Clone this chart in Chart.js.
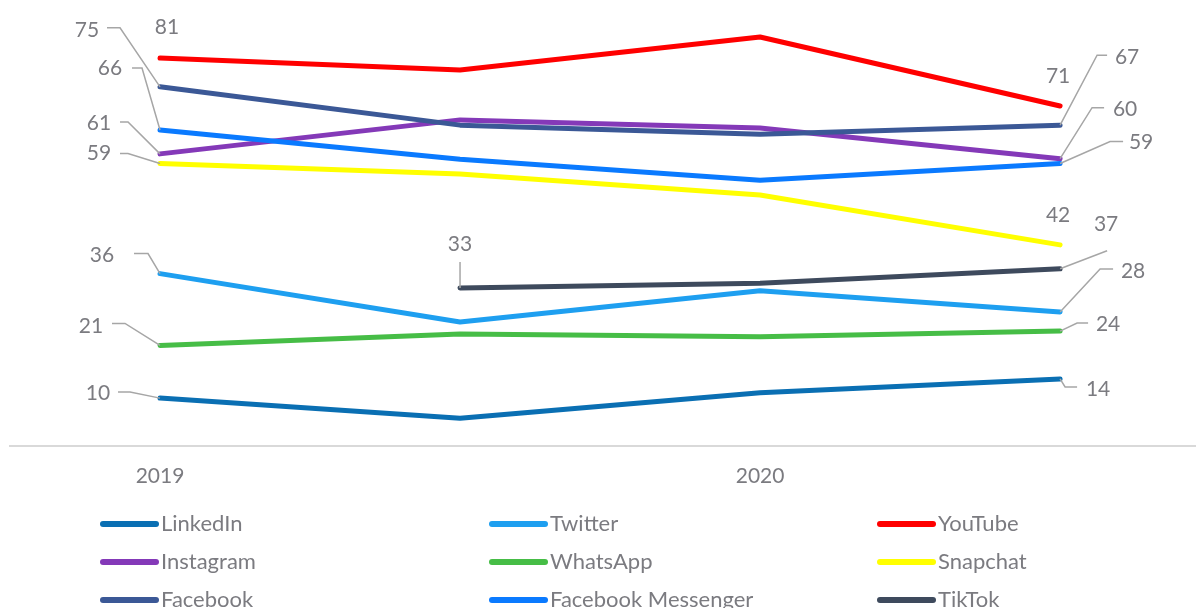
<!DOCTYPE html>
<html>
<head>
<meta charset="utf-8">
<script src="https://cdn.jsdelivr.net/npm/chart.js@4"></script>
<style>
  html, body { margin: 0; padding: 0; background: #fff; overflow: hidden; }
  #wrap { width: 1196px; height: 640px; }
</style>
</head>
<body>
<div id="wrap"><canvas id="grafico" width="1196" height="640"></canvas></div>
<script>
// categorias (so 2019 e 2020 aparecem no eixo)
const categories = ['2019', '', '2020', ''];

const nomes = ['LinkedIn', 'Twitter', 'YouTube', 'Instagram', 'WhatsApp', 'Snapchat', 'Facebook', 'Facebook Messenger', 'TikTok'];

const linkedin  = [10, 5.8, 11.1, 14];
const twitter   = [36, 25.9, 32.4, 28];
const youtube   = [81, 78.5, 85.4, 71];
const instagram = [61, 68.1, 66.4, 60];
const whatsapp  = [21, 23.4, 22.8, 24];
const snapchat  = [59, 56.8, 52.4, 42];
const facebook  = [75, 67.0, 65.1, 67];
const messenger = [66, 59.9, 55.5, 59];
const tiktok    = [null, 33, 34.0, 37];

const series = [linkedin, twitter, youtube, instagram, whatsapp, snapchat, facebook, messenger, tiktok];
const cores = ['#0a6fb3', '#1e9ff0', '#ff0000', '#8439b8', '#46bd46', '#ffff00', '#3b5896', '#0a7aff', '#3e4a5d'];

const corTexto = '#7b7b80';
const fonte = 'Lato, "Open Sans", sans-serif';

// posicao dos rotulos: deslocamento do texto e pontos da linha guia (relativos ao ponto)
const rotulos = {
  'LinkedIn':  { ini: { t: [-62, -5],  g: [[-30, -6], [-42, -6]] },  fim: { t: [38, 10],  g: [[5, 8], [17, 8]] } },
  'Twitter':   { ini: { t: [-58, -18], g: [[-12, -20], [-26, -20]] }, fim: { t: [73, -41], g: [[40, -43], [53, -43]] } },
  'YouTube':   { ini: { t: [7, -31],   g: [] },                       fim: { t: [-2, -30], g: [] } },
  'Instagram': { ini: { t: [-61, -31], g: [[-32, -32], [-40, -32]] }, fim: { t: [65, -49], g: [[32, -51], [44, -51]] } },
  'WhatsApp':  { ini: { t: [-69, -19], g: [[-35, -22], [-48, -22]] }, fim: { t: [48, -7],  g: [[17, -8], [28, -8]] } },
  'Snapchat':  { ini: { t: [-61, -10], g: [[-32, -10], [-40, -10]] }, fim: { t: [-2, -30], g: [] } },
  'Facebook':  { ini: { t: [-73, -57], g: [[-40, -59], [-53, -59]] }, fim: { t: [67, -68], g: [[37, -70], [47, -70]] } },
  'Facebook Messenger': { ini: { t: [-50, -62], g: [[-18, -62], [-28, -62]] }, fim: { t: [81, -21], g: [[50, -22], [63, -22]] } },
  'TikTok':    { ini: { t: [0, -44],   g: [[0, -26]] },               fim: { t: [46, -45], g: [[47, -18]] } }
};

const pluginRotulos = {
  id: 'rotulos',
  afterDatasetsDraw(chart) {
    const ctx = chart.ctx;
    ctx.save();
    ctx.font = '21px ' + fonte;
    ctx.fillStyle = corTexto;
    ctx.textAlign = 'center';
    ctx.textBaseline = 'middle';
    chart.data.datasets.forEach((ds, i) => {
      const meta = chart.getDatasetMeta(i);
      const cfg = rotulos[ds.label];
      const idx = ds.data.map((p, k) => p.y === null ? -1 : k).filter(k => k >= 0);
      [['ini', idx[0]], ['fim', idx[idx.length - 1]]].forEach(([lado, k]) => {
        const pt = meta.data[k];
        const c = cfg[lado];
        if (c.g.length) {
          ctx.strokeStyle = '#a6a6a6';
          ctx.lineWidth = 1.5;
          ctx.beginPath();
          ctx.moveTo(pt.x, pt.y);
          c.g.forEach(g => ctx.lineTo(pt.x + g[0], pt.y + g[1]));
          ctx.stroke();
        }
        ctx.fillText(Math.round(ds.data[k].y), pt.x + c.t[0], pt.y + c.t[1]);
      });
    });
    ctx.restore();
  }
};

const pluginLegenda = {
  id: 'legenda',
  afterDraw(chart) {
    const ctx = chart.ctx;
    const colX = [100, 489, 877];
    const rowY = [524, 562, 600];
    ctx.save();
    ctx.font = '22px ' + fonte;
    ctx.textBaseline = 'middle';
    ctx.textAlign = 'left';
    chart.data.datasets.forEach((ds, i) => {
      const x = colX[i % 3];
      const y = rowY[Math.floor(i / 3)];
      ctx.strokeStyle = ds.borderColor;
      ctx.lineWidth = 6;
      ctx.lineCap = 'round';
      ctx.beginPath();
      ctx.moveTo(x + 3, y);
      ctx.lineTo(x + 56, y);
      ctx.stroke();
      ctx.fillStyle = corTexto;
      ctx.fillText(ds.label, x + 61, y);
    });
    ctx.restore();
  }
};

const ctx = document.getElementById('grafico').getContext('2d');
const grafico = new Chart(ctx, {
  type: 'line',
  data: {
    datasets: series.map((valores, i) => ({
      label: nomes[i],
      data: valores.map((v, k) => ({ x: k, y: v })),
      borderColor: cores[i],
      backgroundColor: cores[i],
      borderWidth: 5,
      borderCapStyle: 'round',
      borderJoinStyle: 'round',
      pointRadius: 0,
      tension: 0,
      spanGaps: false,
      order: series.length - i
    }))
  },
  options: {
    responsive: false,
    animation: false,
    devicePixelRatio: 1,
    layout: { padding: { left: 10, right: 0, top: 15, bottom: 0 } },
    plugins: {
      legend: { display: false },
      tooltip: { enabled: false }
    },
    scales: {
      x: {
        type: 'linear',
        min: -0.5,
        max: 3.453,
        grid: { display: false, drawTicks: false },
        border: { display: true, color: '#d9d9d9', width: 2 },
        afterBuildTicks: s => {
          s.ticks = categories.map((c, k) => ({ value: k })).filter(t => categories[t.value] !== '');
        },
        afterFit: s => { s.height = 194; },
        ticks: {
          padding: 18,
          maxRotation: 0,
          autoSkip: false,
          color: corTexto,
          font: { family: fonte, size: 21 },
          callback: v => categories[v]
        }
      },
      y: {
        display: false,
        min: 0,
        max: 90
      }
    }
  },
  plugins: [pluginRotulos, pluginLegenda]
});
</script>
</body>
</html>
